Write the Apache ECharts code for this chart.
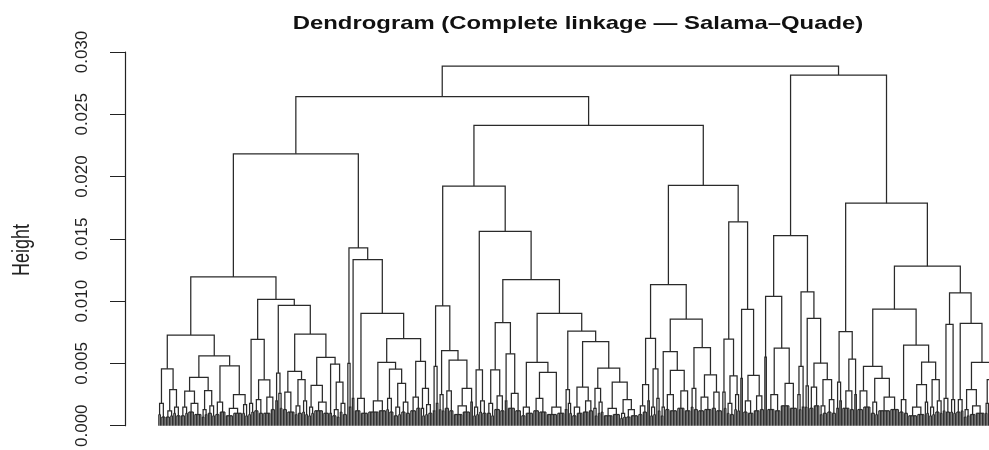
<!DOCTYPE html>
<html><head><meta charset="utf-8">
<script src="https://cdn.jsdelivr.net/npm/echarts@6.0.0/dist/echarts.min.js"></script>
<style>html,body{margin:0;padding:0;background:#fff}#chart{width:989px;height:450px}</style>
</head><body><div id="chart"></div>
<script>
// ---------- DATA ----------
const titleText = 'Dendrogram (Complete linkage \u2014 Salama\u2013Quade)';
const yAxisTitle = 'Height';
const yTickValues = [0, 0.005, 0.010, 0.015, 0.020, 0.025, 0.030];

// bottom clusters (left to right): top merge height and number of leaves
const clusterHeights = [
  0.0018,0.0012,0.0015,0.0015,0.0018,0.0013,0.0016,0.0019,0.0014,0.0017,
  0.0018,0.0021,0.0023,0.0020,0.0026,0.0027,0.0016,0.0020,0.0015,0.0019,
  0.0010,0.0013,0.0018,0.0010,0.0015,0.0022,0.0022,0.0020,0.0022,0.0015,
  0.0019,0.0023,0.0014,0.0017,0.0012,0.0018,0.0025,0.0028,0.0016,0.0019,
  0.0015,0.0020,0.0018,0.0024,0.0020,0.0026,0.0015,0.0022,0.0015,0.0013,
  0.0018,0.0015,0.0020,0.0014,0.0019,0.0014,0.0010,0.0013,0.0016,0.0020,
  0.0015,0.0022,0.0015,0.0025,0.0028,0.0030,0.0023,0.0027,0.0027,0.0018,
  0.0025,0.0038,0.0020,0.0024,0.0055,0.0025,0.0034,0.0025,0.0015,0.0032,
  0.0031,0.0016,0.0021,0.0014,0.0020,0.0028,0.0025,0.0028,0.0019,0.0023,
  0.0021,0.0015,0.0019,0.0015,0.0020,0.0022,0.0021,0.0021,0.0013,0.0016,
  0.0018,0.0022
];
const clusterSizes = [
  5,5,5,5,9,4,5,7,11,4,
  4,6,8,2,3,8,5,4,4,10,
  2,5,5,1,2,2,9,12,5,5,
  6,7,3,5,2,2,4,6,11,2,
  4,5,5,7,2,9,8,9,12,2,
  3,7,7,3,4,11,4,8,6,2,
  4,3,3,8,9,5,9,7,3,5,
  4,2,7,7,2,9,11,3,2,3,
  7,5,6,2,2,8,2,9,5,14,
  6,11,3,4,5,5,4,5,4,10,
  3,11
];
// leaves in the left sub-group of each cluster
const clusterSplit = [
  2,3,2,3,4,2,3,3,5,2,
  2,3,5,1,1,3,2,2,2,6,
  1,3,2,0,1,1,4,7,2,3,
  3,4,1,2,1,1,2,3,6,1,
  2,2,3,4,1,5,3,4,7,1,
  1,3,4,1,2,6,2,3,3,1,
  2,1,2,3,5,2,4,3,1,2,
  2,1,3,4,1,5,6,1,1,2,
  3,2,3,1,1,5,1,4,3,8,
  3,6,1,2,3,2,2,3,2,4,
  2,6
];
// merge heights of the small left / right sub-groups
const lowLeft = [
  0.0009,0.0007,0.0010,0.0008,0.0011,0.0007,0.0010,0.0009,0.0008,0.0010,
  0.0009,0.0012,0.0010,0.0008,0.0008,0.0013,0.0009,0.0011,0.0008,0.0012,
  0.0006,0.0008,0.0011,0.0006,0.0008,0.0008,0.0012,0.0011,0.0013,0.0008,
  0.0011,0.0012,0.0008,0.0009,0.0008,0.0008,0.0013,0.0014,0.0009,0.0008,
  0.0008,0.0011,0.0010,0.0013,0.0008,0.0014,0.0008,0.0012,0.0009,0.0008,
  0.0008,0.0008,0.0011,0.0008,0.0010,0.0008,0.0006,0.0007,0.0009,0.0008,
  0.0008,0.0008,0.0008,0.0013,0.0014,0.0015,0.0012,0.0014,0.0008,0.0010,
  0.0013,0.0008,0.0011,0.0012,0.0008,0.0013,0.0016,0.0008,0.0008,0.0015,
  0.0014,0.0009,0.0011,0.0008,0.0008,0.0014,0.0008,0.0013,0.0010,0.0012,
  0.0011,0.0008,0.0008,0.0008,0.0011,0.0012,0.0011,0.0011,0.0007,0.0009,
  0.0010,0.0012
];
const lowRight = [
  0.0007,0.0008,0.0008,0.0010,0.0009,0.0009,0.0008,0.0011,0.0010,0.0008,
  0.0011,0.0010,0.0013,0.0008,0.0014,0.0011,0.0010,0.0009,0.0010,0.0010,
  0.0006,0.0007,0.0009,0.0006,0.0008,0.0008,0.0010,0.0012,0.0011,0.0009,
  0.0010,0.0014,0.0008,0.0010,0.0008,0.0008,0.0012,0.0012,0.0011,0.0008,
  0.0009,0.0010,0.0008,0.0012,0.0008,0.0012,0.0010,0.0011,0.0010,0.0008,
  0.0010,0.0010,0.0012,0.0008,0.0011,0.0009,0.0007,0.0008,0.0011,0.0008,
  0.0009,0.0012,0.0009,0.0012,0.0012,0.0013,0.0013,0.0012,0.0014,0.0009,
  0.0012,0.0008,0.0010,0.0013,0.0008,0.0012,0.0014,0.0013,0.0008,0.0014,
  0.0016,0.0010,0.0010,0.0008,0.0008,0.0013,0.0008,0.0015,0.0009,0.0013,
  0.0010,0.0009,0.0010,0.0009,0.0010,0.0011,0.0010,0.0012,0.0008,0.0010,
  0.0009,0.0013
];

// tree shape: [mergeHeight, leftChild, rightChild]; a number = bottom cluster id (1-based)
const treeLL = [0.02183,
  [0.01194,
    [0.00728,
      [0.00457, 1, [0.0029, 2, 3]],
      [0.0056,
        [0.00388, [0.00277, 4, 5], [0.00282, 6, 7]],
        [0.00481, 8, [0.0025, 9, 10]]]],
    [0.01015,
      [0.00694, 11, [0.00369, 12, 13]],
      [0.00967,
        [0.00423, 14, 15],
        [0.00736,
          [0.00436, 16, [0.0037, 17, 18]],
          [0.00548, [0.00324, 19, 20], [0.00494, 21, [0.0035, 22, 23]]]]]]],
  [0.01427,
    [0.0050, 24, 25],
    [0.01334, 26,
      [0.00901, 27,
        [0.00699,
          [0.00508, 28, [0.00455, 29, [0.0034, 30, 31]]],
          [0.00516, 32, [0.0030, 33, 34]]]]]]
];
const treeLR = [0.02411,
  [0.01924,
    [0.00962,
      [0.00476, 35, 36],
      [0.00603, 37, [0.00526, 38, [0.0030, 39, 40]]]],
    [0.0156,
      [0.00449, 41, 42],
      [0.01172,
        [0.00827, [0.00449, 43, 44], [0.00577, 45, 46]],
        [0.00901,
          [0.00508, 47, [0.00428, 48, 49]],
          [0.0076, [0.0029, 50, 51],
            [0.00675, [0.0031, 52, 53],
              [0.00462, [0.0030, 54, 55], [0.0035, 56, [0.0021, 57, 58]]]]]]]]],
  [0.0193,
    [0.01132,
      [0.00702, [0.0033, 59, 60], [0.00457, 61, 62]],
      [0.00856,
        [0.00595, 63, [0.00444, 64, 65]],
        [0.00627, 66, [0.00409, 67, 68]]]],
    [0.01637,
      [0.00696, 69, [0.0040, 70, 71]],
      [0.00933, 72, [0.00404, 73, 74]]]]
];
const treeRL = [0.01527,
  [0.01039, 75, [0.00622, 76, 77]],
  [0.01074, [0.00476, 78, 79], [0.00861, 80, [0.00502, 81, [0.0037, 82, 83]]]]
];
const treeRR = [0.01786,
  [0.00755, [0.0035, 84, 85], [0.00534, 86, 87]],
  [0.01281,
    [0.00936,
      [0.00476, 88, [0.0038, 89, 90]],
      [0.00648, 91, [0.0051, [0.0033, 92, 93], [0.0037, 94, 95]]]],
    [0.01066,
      [0.00813, 96, 97],
      [0.00821, 98, [0.00508, [0.0029, 99, 100], [0.0037, 101, 102]]]]]
];
// root, left main branch, right main branch
const topHeights = [0.02887, 0.02642, 0.02815];

// ---------- LAYOUT (R-style: leaves at 1..n, node at midpoint of children) ----------
const tree = [topHeights[0], [topHeights[1], treeLL, treeLR], [topHeights[2], treeRL, treeRR]];
const segs = [];
let cursor = 0;
function comb(n, h) {            // n leaves joined at height h
  const first = cursor + 1;
  cursor += n;
  if (n === 1) return { x: first, h: 0 };
  for (let i = first; i <= cursor; i++) segs.push([[i, 0], [i, h]]);
  segs.push([[first, h], [cursor, h]]);
  return { x: (first + cursor) / 2, h: h };
}
function join(a, b, h) {
  segs.push([[a.x, a.h], [a.x, h], [b.x, h], [b.x, b.h]]);
  return { x: (a.x + b.x) / 2, h: h };
}
function place(node) {
  if (typeof node === 'number') {
    const k = node - 1, n = clusterSizes[k], s = clusterSplit[k];
    if (s === 0) return comb(n, clusterHeights[k]);
    const a = comb(s, lowLeft[k]);
    const b = comb(n - s, lowRight[k]);
    return join(a, b, clusterHeights[k]);
  }
  const a = place(node[1]), b = place(node[2]);
  return join(a, b, node[0]);
}
place(tree);
const N = cursor;
const pad = 0.04 * (N - 1);
const pxPerLeaf = 1.5, gridLeft = 125, chartW = 989;

const chart = echarts.init(document.getElementById('chart'), null, { renderer: 'canvas' });
const font = 'Liberation Sans, Arial, Helvetica, sans-serif';
chart.setOption({
  animation: false,
  backgroundColor: '#fff',
  grid: { left: gridLeft, right: 0, top: 52, height: 376 },
  xAxis: { type: 'value', min: 1 - pad, max: 1 - pad + (chartW - gridLeft) / pxPerLeaf, show: false },
  yAxis: {
    type: 'value', min: yTickValues[0], max: yTickValues[yTickValues.length - 1], interval: 0.005,
    axisLine: { show: true, onZero: false, lineStyle: { color: '#222', width: 1.2 } },
    axisTick: { show: true, length: 15, lineStyle: { color: '#222', width: 1 } },
    splitLine: { show: false },
    axisLabel: { rotate: 90, margin: 34, color: '#222', fontSize: 17, fontFamily: font,
      formatter: v => v.toFixed(3) }
  },
  graphic: [
    { type: 'text', x: 578, y: 24, scaleX: 1.35, silent: true,
      style: { text: titleText, fontSize: 17.7, fontWeight: 'bold', fontFamily: font, fill: '#111',
        textAlign: 'center', textVerticalAlign: 'middle', align: 'center', verticalAlign: 'middle' } },
    { type: 'text', x: 22, y: 250, rotation: Math.PI / 2, scaleY: 1.35, silent: true,
      style: { text: yAxisTitle, fontSize: 18, fontFamily: font, fill: '#222',
        textAlign: 'center', textVerticalAlign: 'middle', align: 'center', verticalAlign: 'middle' } }
  ],
  series: [{
    type: 'lines', coordinateSystem: 'cartesian2d', polyline: true, silent: true, clip: false,
    lineStyle: { color: '#2a2a2a', width: 1.25, opacity: 1 },
    data: segs.map(c => ({ coords: c }))
  }]
});
</script></body></html>
